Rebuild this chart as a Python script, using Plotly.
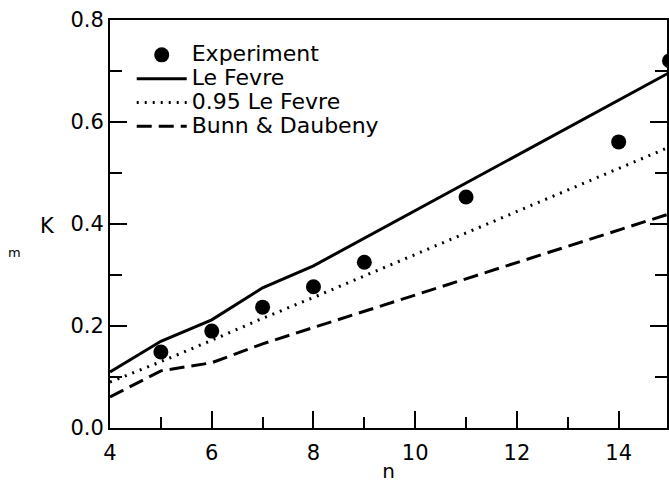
import plotly.graph_objects as go

# data
n_exp = [5, 6, 7, 8, 9, 11, 14, 15]
k_exp = [0.149, 0.190, 0.237, 0.277, 0.325, 0.453, 0.561, 0.720]

n_line = [4, 5, 6, 7, 8, 9, 10, 11, 12, 13, 14, 15]
k_lefevre = [0.110, 0.170, 0.212, 0.275, 0.318, 0.372, 0.427, 0.480, 0.535, 0.589, 0.643, 0.697]
k_095 = [0.090, 0.130, 0.172, 0.215, 0.256, 0.298, 0.340, 0.383, 0.425, 0.467, 0.509, 0.551]
k_bunn = [0.061, 0.112, 0.128, 0.165, 0.197, 0.229, 0.261, 0.293, 0.325, 0.357, 0.389, 0.420]

series_names = ["Experiment", "Le Fevre", "0.95 Le Fevre", "Bunn &amp; Daubeny"]

x_ticks = [4, 6, 8, 10, 12, 14]
y_ticks = [0.0, 0.2, 0.4, 0.6, 0.8]

FONT = "DejaVu Sans"


def lbl(s):
    return '<span style="font-size:22px">' + s + '</span>'


fig = go.Figure()
fig.add_trace(go.Scatter(x=n_exp, y=k_exp, mode="markers", name=lbl(series_names[0]),
                         marker=dict(color="black", size=15)))
fig.add_trace(go.Scatter(x=n_line, y=k_lefevre, mode="lines", name=lbl(series_names[1]),
                         line=dict(color="black", width=3)))
fig.add_trace(go.Scatter(x=n_line, y=k_095, mode="lines", name=lbl(series_names[2]),
                         line=dict(color="black", width=3, dash="2px,6px")))
fig.add_trace(go.Scatter(x=n_line, y=k_bunn, mode="lines", name=lbl(series_names[3]),
                         line=dict(color="black", width=3, dash="15px,7px")))

fig.update_layout(
    width=669, height=485,
    margin=dict(l=110, r=0, t=20, b=57),
    paper_bgcolor="white", plot_bgcolor="white",
    font=dict(family=FONT, size=20, color="black"),
    showlegend=True,
    legend=dict(x=0.039, y=0.956, xanchor="left", yanchor="top",
                bgcolor="rgba(0,0,0,0)", font=dict(size=16, family=FONT, color="black"),
                tracegroupgap=0, itemwidth=50),
    xaxis=dict(range=[4, 14.95], tickvals=x_ticks, ticktext=[str(v) for v in x_ticks],
               ticks="inside", ticklen=17, tickwidth=2, tickcolor="black",
               showline=True, linecolor="black", linewidth=2, mirror=True,
               showgrid=False, zeroline=False, ticklabelstandoff=5,
               minor=dict(tickvals=[5, 7, 9, 11, 13], ticks="inside", ticklen=11,
                          tickwidth=2, tickcolor="black", showgrid=False),
               title=dict(text="n", font=dict(size=20, color="black"), standoff=0),
               tickfont=dict(size=21, color="black")),
    yaxis=dict(range=[0, 0.8], tickvals=y_ticks, ticktext=["%.1f" % v for v in y_ticks],
               ticks="inside", ticklen=17, tickwidth=2, tickcolor="black",
               showline=True, linecolor="black", linewidth=2, mirror="ticks",
               showgrid=False, zeroline=False,
               minor=dict(tickvals=[0.1, 0.3, 0.5, 0.7], ticks="inside", ticklen=12,
                          tickwidth=2, tickcolor="black", showgrid=False),
               tickfont=dict(size=21, color="black")),
)

fig.add_annotation(text="K", xref="paper", yref="paper", x=-0.1127, y=0.495,
                   xanchor="center", yanchor="middle", showarrow=False,
                   font=dict(size=21, family=FONT, color="black"))
fig.add_annotation(text="m", xref="paper", yref="paper", x=-0.1717, y=0.431,
                   xanchor="center", yanchor="middle", showarrow=False,
                   font=dict(size=13, family=FONT, color="black"))

fig.write_html("out.html",
               config={"displayModeBar": False},
               post_script="document.body.style.margin='0px';"
                           "document.body.style.overflow='hidden';")
